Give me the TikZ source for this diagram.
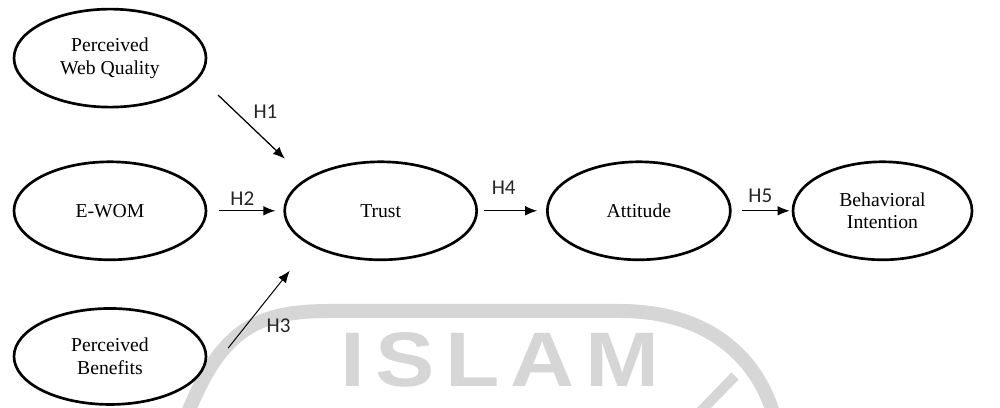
\documentclass[tikz,border=0pt]{standalone}
\usepackage{fontspec}
\setmainfont{Liberation Serif}
\newfontfamily\hypfont{Carlito}
\newfontfamily\markfont[LetterSpace=12]{Liberation Sans Bold}
\usepackage{tikz}
\usetikzlibrary{positioning, shapes.geometric, arrows.meta}

\definecolor{markgray}{HTML}{D6D6D6}

\begin{document}
\begin{tikzpicture}[
    node distance=1cm and 1cm,
    construct/.style={ellipse, draw=black, line width=1.9pt, minimum width=4.8cm, minimum height=2.45cm, align=center, fill=white, font=\fontsize{14}{16}\selectfont},
    arrow/.style={-{Latex[length=3mm, width=2.4mm]}, line width=0.9pt},
    hyp/.style={font=\hypfont\fontsize{15}{18}\selectfont, text=black!85, inner sep=1pt}
]
\useasboundingbox (0,0) rectangle (25,10.2);

% Watermark (behind everything)
\begin{scope}
    \clip (0,0) rectangle (25,10.2);
    \draw[markgray, line width=0.35cm] (4.625,-0.3) .. controls (5.5,1.95) and (6.375,2.425) .. (8.25,2.425)
        -- (15.5,2.425) .. controls (17.75,2.425) and (19.0,1.2) .. (19.375,-0.3);
    \draw[markgray, line width=0.25cm] (17.5,-0.1) -- (18.375,0.8);
    \node[text=markgray, font=\markfont\fontsize{55}{60}\selectfont, xscale=1.15] (mark) at (12.5,1.2) {ISLAM};
\end{scope}

% Independent constructs
\node[construct] (ewom) at (2.75,4.93) {E-WOM};
\node[construct, above=1.3cm of ewom] (pwq) {Perceived\\Web Quality};
\node[construct, below=1.15cm of ewom, minimum height=2.4cm] (pb) {Perceived\\Benefits};

% Mediators and outcome
\node[construct, right=1.9cm of ewom] (trust) {Trust};
\node[construct, right=1.7cm of trust, minimum width=4.575cm] (attitude) {Attitude};
\node[construct, right=1.5cm of attitude, minimum width=4.475cm] (intention) {Behavioral\\Intention};

% Hypotheses
\draw[arrow] ([shift={(0.27,-0.925)}]pwq.east) -- node[hyp, above right=0.15cm and 0cm] {H1} ([shift={(0.04,1.3)}]trust.west);
\draw[arrow] ([xshift=0.28cm]ewom.east) -- node[hyp, pos=0.42, above=2pt] {H2} ([xshift=-0.2cm]trust.west);
\draw[arrow, line width=0.7pt] ([shift={(0.52,0.21)}]pb.east) -- node[hyp, pos=0.4, below right=0cm and 0.3cm] {H3} ([shift={(0.16,-1.5)}]trust.west);
\draw[arrow] ([xshift=0.15cm]trust.east) -- node[hyp, pos=0.37, above=0.35cm] {H4} ([xshift=-0.22cm]attitude.west);
\draw[arrow] ([xshift=0.25cm]attitude.east) -- node[hyp, pos=0.39, above=0.15cm] {H5} ([xshift=-0.05cm]intention.west);

\end{tikzpicture}
\end{document}
